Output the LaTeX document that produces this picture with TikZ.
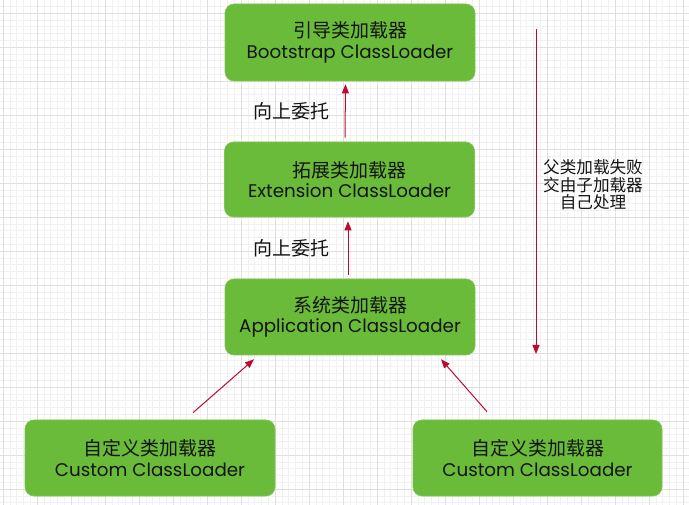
\documentclass[tikz,border=0pt]{standalone}
\usepackage{fontspec}
\setmainfont{Poppins}
\newfontfamily\cjk{Noto Sans CJK SC}
\usetikzlibrary{arrows.meta}
\definecolor{boxgreen}{RGB}{106,187,57}
\definecolor{arrred}{RGB}{186,12,48}
\definecolor{gridminor}{RGB}{241,241,241}
\definecolor{gridmajor}{RGB}{224,224,224}
\definecolor{txt}{RGB}{20,20,20}
\tikzset{
  loader/.style={draw=boxgreen!85!white, line width=0.6pt, fill=boxgreen, rounded corners=9pt,
    minimum width=250pt, minimum height=76pt, align=center, text=txt,
    font=\fontsize{18.3}{20.5}\selectfont, inner sep=0pt},
  arr/.style={draw=arrred, line width=1pt, -{Triangle[length=9pt,width=7pt]}},
  lbl/.style={text=txt, font=\cjk\fontsize{19}{21}\selectfont, inner sep=0pt},
  note/.style={text=txt, font=\cjk\fontsize{16.6}{17.5}\selectfont, align=center, inner sep=0pt}
}
\newcommand{\zh}[1]{{\cjk\fontsize{19}{20.5}\selectfont #1}}
\begin{document}
\begin{tikzpicture}[x=1pt,y=-1pt]
\useasboundingbox (0,0) rectangle (689,505);
\fill[white] (0,0) rectangle (689,505);
% grid
\foreach \i in {0,...,102} {
  \draw[gridminor, line width=0.5pt] ({3+\i*6.8},0) -- ({3+\i*6.8},505);
}
\foreach \i in {-1,...,74} {
  \draw[gridminor, line width=0.5pt] (0,{13+\i*6.8}) -- (689,{13+\i*6.8});
}
\foreach \i in {0,...,20} {
  \draw[gridmajor, line width=0.6pt] ({3+\i*34},0) -- ({3+\i*34},505);
}
\foreach \i in {-1,...,14} {
  \draw[gridmajor, line width=0.6pt] (0,{13+\i*34}) -- (689,{13+\i*34});
}
% boxes
\node[loader, minimum height=77pt] (boot) at (350,42.5) {\zh{引导类加载器}\\Bootstrap ClassLoader};
\node[loader, minimum height=75pt] (ext) at (349.5,179.5) {\zh{拓展类加载器}\\Extension ClassLoader};
\node[loader] (app) at (350,317) {\zh{系统类加载器}\\Application ClassLoader};
\node[loader] (c1) at (150,458) {\zh{自定义类加载器}\\Custom ClassLoader};
\node[loader, minimum width=249pt] (c2) at (537.5,458) {\zh{自定义类加载器}\\Custom ClassLoader};
% arrows
\draw[arr] ([xshift=-4.5pt,yshift=4pt]ext.north) -- ([xshift=-4.5pt,yshift=-3pt]boot.south);
\draw[arr] ([xshift=-2pt,yshift=4pt]app.north) -- ([xshift=-1.5pt,yshift=-4pt]ext.south);
\draw[arr] ([xshift=43pt,yshift=7pt]c1.north) -- ([xshift=-96pt,yshift=-4pt]app.south);
\draw[arr] ([xshift=-50.5pt,yshift=8pt]c2.north) -- ([xshift=91pt,yshift=-4pt]app.south);
% labels
\node[lbl] (l1) at (291,111) {向上委托};
\node[lbl] (l2) at (291,248) {向上委托};
% right side
\coordinate (dtop) at (536,29);
\coordinate (dbot) at (536,354);
\draw[arr] (dtop) -- (dbot);
\node[note] (n) at (593,185) {父类加载失败\\交由子加载器\\自己处理};
\end{tikzpicture}
\end{document}
